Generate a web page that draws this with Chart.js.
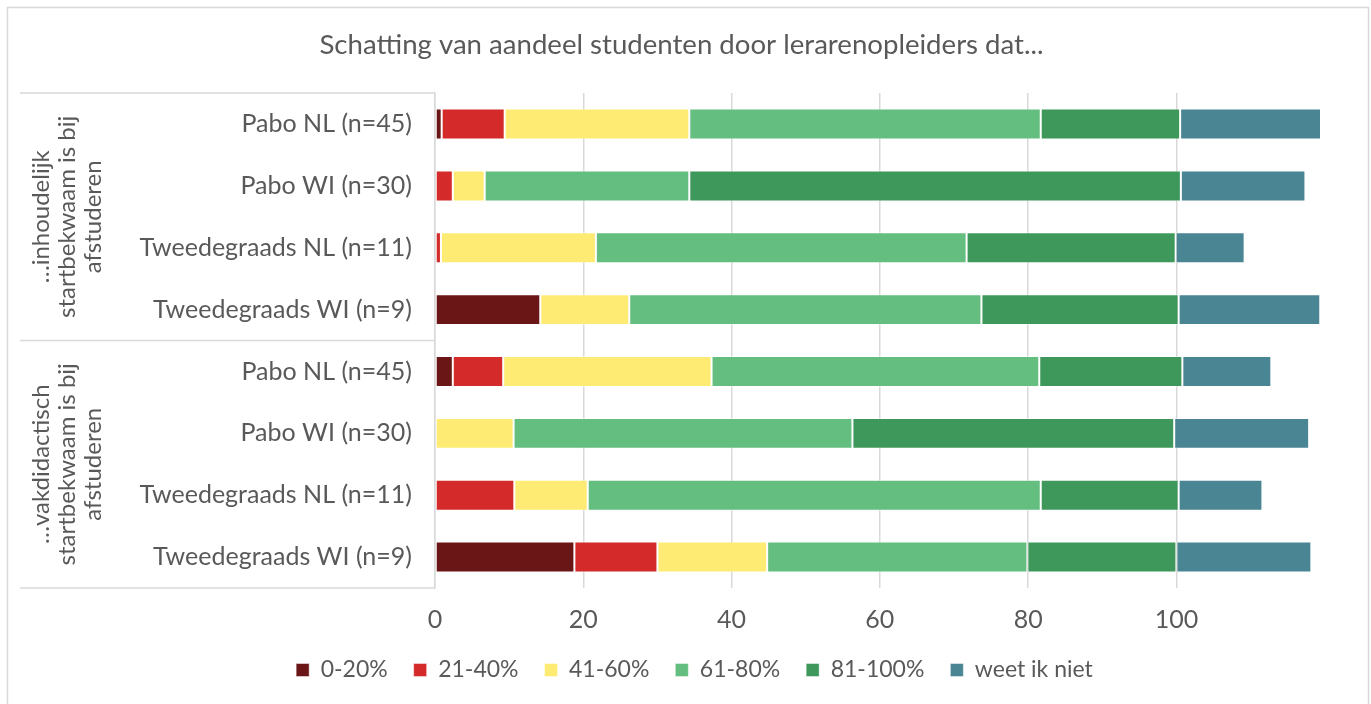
<!DOCTYPE html>
<html>
<head>
<meta charset="utf-8">
<script src="https://cdn.jsdelivr.net/npm/chart.js@4"></script>
<style>
  html, body { margin: 0; padding: 0; background: #fff; }
  #wrap { position: relative; width: 1371px; height: 704px; }
</style>
</head>
<body>
<div id="wrap"><canvas id="grafiek" width="1371" height="704"></canvas></div>
<script>
const titel = 'Schatting van aandeel studenten door lerarenopleiders dat...'
const opleidingen = ['Pabo NL (n=45)', 'Pabo WI (n=30)', 'Tweedegraads NL (n=11)', 'Tweedegraads WI (n=9)',
    'Pabo NL (n=45)', 'Pabo WI (n=30)', 'Tweedegraads NL (n=11)', 'Tweedegraads WI (n=9)']
const groepen = [
    ['\u2026inhoudelijk', 'startbekwaam is bij', 'afstuderen'],
    ['\u2026vakdidactisch', 'startbekwaam is bij', 'afstuderen']
]
const xTicks = [0, 20, 40, 60, 80, 100]

const reeks0_20 = [0.9, 0, 0, 14.2, 2.4, 0, 0, 18.8]
const reeks21_40 = [8.5, 2.4, 0.8, 0, 6.8, 0, 10.7, 11.2]
const reeks41_60 = [24.9, 4.3, 20.9, 12.0, 28.1, 10.6, 9.9, 14.8]
const reeks61_80 = [47.4, 27.6, 50.0, 47.5, 44.2, 45.7, 61.1, 35.1]
const reeks81_100 = [18.8, 66.3, 28.2, 26.6, 19.3, 43.4, 18.6, 20.1]
const weetIkNiet = [19.0, 16.8, 9.3, 19.1, 12.0, 18.2, 11.3, 18.2]

const tekstKleur = '#595959'
const lijnKleur = '#d9d9d9'
const lettertype = 'Lato, "Noto Sans", sans-serif'

function maakReeks(label, data, kleur) {
    return {
        label: label,
        data: data,
        backgroundColor: kleur,
        borderColor: 'rgba(255,255,255,0.45)',
        borderWidth: 1,
        borderSkipped: false,
        categoryPercentage: 1,
        barPercentage: 0.5
    }
}

const totalen = opleidingen.map((_, i) =>
    reeks0_20[i] + reeks21_40[i] + reeks41_60[i] + reeks61_80[i] + reeks81_100[i] + weetIkNiet[i])
const xMax = Math.max(...totalen)

// rand om de grafiek, lijnen van de categorie-tabel en de groepslabels
const tabelPlugin = {
    id: 'tabel',
    beforeDraw(chart) {
        const ctx = chart.ctx
        // titel en legenda staan in het origineel iets rechts van het midden
        if (!chart.$verschoven) {
            chart.titleBlock.left += 11
            chart.titleBlock.right += 11
            chart.legend.left += 24
            chart.legend.right += 24
            chart.$verschoven = true
        }
        ctx.save()
        ctx.fillStyle = '#fff'
        ctx.fillRect(0, 0, chart.width, chart.height)
        ctx.strokeStyle = lijnKleur
        ctx.lineWidth = 1.5
        ctx.strokeRect(7.5, 7.5, 1361, 720)
        ctx.restore()
    },
    afterDraw(chart) {
        const ctx = chart.ctx
        const y = chart.scales.y
        const links = 20
        const rechts = chart.chartArea.left
        const midden = (y.getPixelForValue(3) + y.getPixelForValue(4)) / 2
        const lijnen = [chart.chartArea.top, midden, chart.chartArea.bottom]
        ctx.save()
        ctx.strokeStyle = lijnKleur
        ctx.lineWidth = 1.5
        lijnen.forEach((ly) => {
            ctx.beginPath()
            ctx.moveTo(links, ly)
            ctx.lineTo(rechts, ly)
            ctx.stroke()
        })
        ctx.fillStyle = tekstKleur
        ctx.font = '24px ' + lettertype
        ctx.textAlign = 'center'
        ctx.textBaseline = 'middle'
        const centra = [(chart.chartArea.top + midden) / 2, (midden + chart.chartArea.bottom) / 2]
        groepen.forEach((regels, g) => {
            ctx.save()
            ctx.translate(67, centra[g])
            ctx.rotate(-Math.PI / 2)
            regels.forEach((r, k) => {
                ctx.fillText(r, 0, (k - 1) * 26)
            })
            ctx.restore()
        })
        ctx.restore()
    }
}

new Chart(document.getElementById('grafiek'), {
    type: 'bar',
    data: {
        labels: opleidingen,
        datasets: [
            maakReeks('0-20%', reeks0_20, '#6a1616'),
            maakReeks('21-40%', reeks21_40, '#d42b2a'),
            maakReeks('41-60%', reeks41_60, '#fdeb74'),
            maakReeks('61-80%', reeks61_80, '#63be7f'),
            maakReeks('81-100%', reeks81_100, '#3f985b'),
            maakReeks('weet ik niet', weetIkNiet, '#4a8593')
        ]
    },
    options: {
        indexAxis: 'y',
        responsive: false,
        animation: false,
        layout: { padding: { left: 20, right: 50, bottom: 12.5 } },
        scales: {
            x: {
                stacked: true,
                min: 0,
                max: xMax,
                afterBuildTicks: (schaal) => {
                    schaal.ticks = xTicks.map((v) => ({ value: v }))
                },
                afterFit: (schaal) => { schaal.height = 44.5 },
                grid: { color: lijnKleur, lineWidth: 1.5, drawTicks: false },
                border: { display: false },
                ticks: { color: tekstKleur, font: { family: lettertype, size: 25 }, padding: 17 }
            },
            y: {
                stacked: true,
                afterFit: (schaal) => { schaal.width = 415 },
                grid: { display: false, drawTicks: false },
                border: { display: true, color: lijnKleur, width: 1.5 },
                ticks: { color: tekstKleur, font: { family: lettertype, size: 25 }, padding: 23, autoSkip: false }
            }
        },
        plugins: {
            title: {
                display: true,
                text: titel,
                color: tekstKleur,
                font: { family: lettertype, size: 27.6, weight: 'normal' },
                padding: { top: 29, bottom: 31 }
            },
            legend: {
                position: 'bottom',
                labels: {
                    color: tekstKleur,
                    font: { family: lettertype, size: 23 },
                    boxWidth: 13,
                    boxHeight: 13,
                    padding: 26
                }
            },
            tooltip: { enabled: false }
        }
    },
    plugins: [tabelPlugin]
})
</script>
</body>
</html>
